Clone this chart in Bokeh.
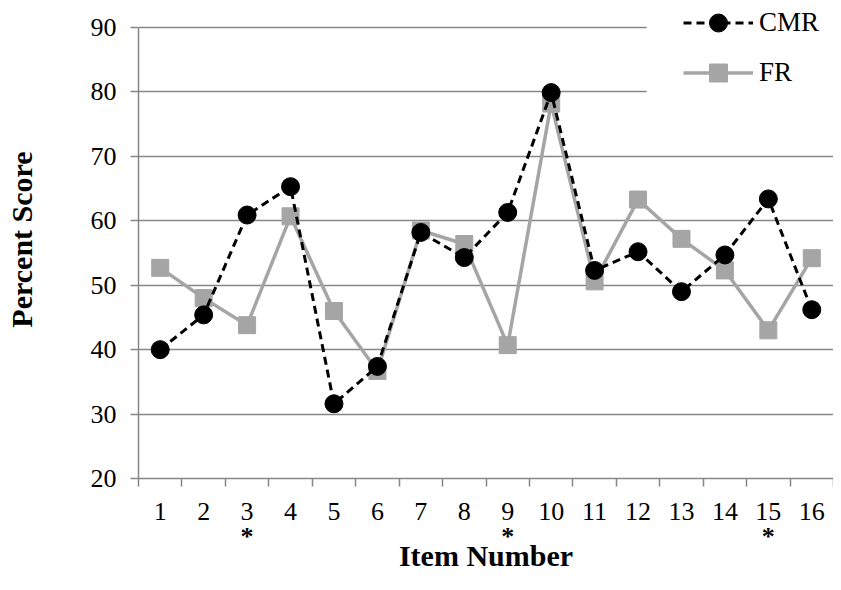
from bokeh.plotting import figure
from bokeh.models import Range1d, FixedTicker, Legend, LegendItem, LinearAxis, BoxAnnotation
from bokeh.embed import file_html
from bokeh.resources import INLINE

items = list(range(1, 17))
cmr = [40.0, 45.4, 60.9, 65.3, 31.6, 37.4, 58.2, 54.3, 61.3, 79.9, 52.3, 55.2, 49.0, 54.7, 63.4, 46.2]
fr = [52.7, 48.0, 43.8, 60.7, 46.0, 36.7, 58.5, 56.4, 40.7, 78.2, 50.6, 63.3, 57.2, 52.3, 43.0, 54.2]
y_ticks = [20, 30, 40, 50, 60, 70, 80, 90]
significant_items = [3, 9, 15]
significance_mark = "*"

FONT = "Liberation Serif"
GRID = "#878787"

p = figure(width=833, height=574, output_backend="svg", toolbar_location=None,
           x_range=Range1d(0.5, 16.5), y_range=Range1d(20, 94.2),
           min_border_left=138, min_border_right=0, min_border_top=0, min_border_bottom=96)
p.outline_line_color = None
p.background_fill_color = "white"
p.border_fill_color = "white"

p.xgrid.grid_line_color = None
p.ygrid.grid_line_color = GRID
p.ygrid.grid_line_width = 1.4
p.yaxis.ticker = FixedTicker(ticks=y_ticks)
p.yaxis.bounds = (20, 90)

boundaries = [i - 0.5 for i in items] + [items[-1] + 0.5]
p.xaxis.ticker = FixedTicker(ticks=items, minor_ticks=boundaries)
p.xaxis.major_tick_line_color = None
p.xaxis.minor_tick_line_color = GRID
p.xaxis.minor_tick_line_width = 1.5
p.xaxis.minor_tick_out = 8
p.xaxis.minor_tick_in = 0

p.yaxis.major_tick_line_color = GRID
p.yaxis.major_tick_line_width = 1.5
p.yaxis.major_tick_out = 8
p.yaxis.major_tick_in = 0
p.yaxis.minor_tick_line_color = None

for ax in (p.xaxis, p.yaxis):
    ax.axis_line_color = GRID
    ax.axis_line_width = 1.5
    ax.major_label_text_font = FONT
    ax.major_label_text_font_size = "26px"
    ax.major_label_text_color = "black"
    ax.axis_label_text_font = FONT
    ax.axis_label_text_font_style = "bold"
    ax.axis_label_text_font_size = "30px"
    ax.axis_label_text_color = "black"

p.xaxis.major_label_standoff = 16
p.yaxis.major_label_standoff = 14
p.yaxis.axis_label = "Percent Score"
p.yaxis.axis_label_standoff = 50

# second axis below: significance marks and the x-axis title
sig_axis = LinearAxis(ticker=FixedTicker(ticks=significant_items),
                      major_label_overrides={i: significance_mark for i in significant_items})
sig_axis.axis_line_color = None
sig_axis.major_tick_line_color = None
sig_axis.minor_tick_line_color = None
sig_axis.major_tick_out = 0
sig_axis.major_tick_in = 0
sig_axis.major_label_standoff = -1
sig_axis.major_label_text_font = FONT
sig_axis.major_label_text_font_style = "bold"
sig_axis.major_label_text_font_size = "26px"
sig_axis.major_label_text_color = "black"
sig_axis.axis_label = "Item Number"
sig_axis.axis_label_standoff = -15
sig_axis.axis_label_text_font = FONT
sig_axis.axis_label_text_font_style = "bold"
sig_axis.axis_label_text_font_size = "30px"
sig_axis.axis_label_text_color = "black"
p.add_layout(sig_axis, "below")

fr_line = p.line(items, fr, line_color="#a5a5a5", line_width=3.5)
fr_pts = p.scatter(items, fr, marker="square", size=17, fill_color="#a5a5a5", line_color="#a5a5a5")
cmr_line = p.line(items, cmr, line_color="black", line_width=3, line_dash="8 5")
cmr_pts = p.scatter(items, cmr, marker="circle", size=18, fill_color="black", line_color="black")

# white area behind the legend (hides the grid lines there)
p.add_layout(BoxAnnotation(left=12.2, bottom=75, fill_color="white", fill_alpha=1.0,
                           line_color=None))

legend = Legend(items=[LegendItem(label="CMR", renderers=[cmr_line, cmr_pts]),
                       LegendItem(label="FR", renderers=[fr_line, fr_pts])],
                location=(545, 383))
legend.glyph_width = 70
legend.glyph_height = 45
legend.label_height = 45
legend.spacing = 5
legend.padding = 0
legend.margin = 0
legend.label_standoff = 6
legend.border_line_color = None
legend.background_fill_color = "white"
legend.background_fill_alpha = 1.0
legend.label_text_font = FONT
legend.label_text_font_size = "27px"
legend.label_text_color = "black"
p.add_layout(legend)

open("out.html", "w").write(file_html(p, INLINE))
